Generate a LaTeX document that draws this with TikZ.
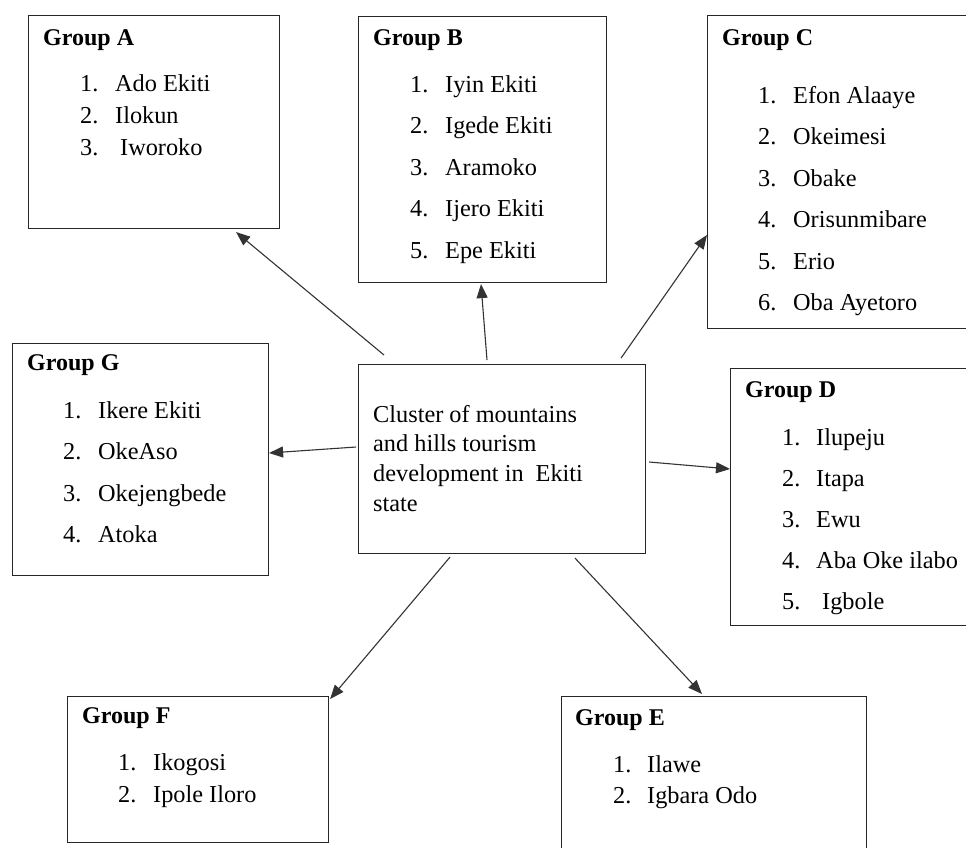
\documentclass[tikz,border=0pt]{standalone}
\usepackage{fontspec}
\setmainfont{Liberation Serif}
\usetikzlibrary{arrows.meta}

\begin{document}
\begin{tikzpicture}[x=1pt, y=-1pt,
  grp/.style={draw=black!85, line width=1.1pt, anchor=north west, inner sep=0pt},
  head/.style={anchor=base west, inner sep=0pt, font=\fontsize{24}{28}\selectfont\bfseries},
  items/.style={anchor=base west, inner sep=0pt, font=\fontsize{24.3}{41.5}\selectfont},
  tight/.style={font=\fontsize{24.3}{32}\selectfont},
  link/.style={draw=black!80, line width=1.1pt, -{Triangle[length=14pt, width=11pt]}}]

  \useasboundingbox (0,0) rectangle (966,847);
  \clip (0,0) rectangle (966,847);

  % boxes
  \node[grp, minimum width=251, minimum height=213] (gA) at (28,15) {};
  \node[grp, minimum width=248, minimum height=266] (gB) at (358,16) {};
  \node[grp, minimum width=280, minimum height=313] (gC) at (707,15) {};
  \node[grp, minimum width=256, minimum height=232] (gG) at (12,343) {};
  \node[grp, minimum width=287, minimum height=189] (c) at (358,364) {};
  \node[grp, minimum width=260, minimum height=257] (gD) at (730,368) {};
  \node[grp, minimum width=261, minimum height=146] (gF) at (67,696) {};
  \node[grp, minimum width=305, minimum height=170] (gE) at (561,696) {};

  % titles
  \node[head] (hA) at (43,45) {Group A};
  \node[head] (hB) at (373,45) {Group B};
  \node[head] (hC) at (722,45) {Group C};
  \node[head] (hD) at (745,397) {Group D};
  \node[head] (hG) at (27,370) {Group G};
  \node[head] (hF) at (82,723) {Group F};
  \node[head] (hE) at (575,725) {Group E};

  % lists
  \node[items, tight] (lA) at (80,91) {\begin{tabular}[t]{@{}p{35pt}@{}l@{}}
    1. & Ado Ekiti\\ 2. & Ilokun\\ 3. & \hspace{5pt}Iworoko\end{tabular}};
  \node[items] (lB) at (410,92) {\begin{tabular}[t]{@{}p{35pt}@{}l@{}}
    1. & Iyin Ekiti\\ 2. & Igede Ekiti\\ 3. & Aramoko\\ 4. & Ijero Ekiti\\ 5. & Epe Ekiti\end{tabular}};
  \node[items] (lC) at (758,103) {\begin{tabular}[t]{@{}p{35pt}@{}l@{}}
    1. & Efon Alaaye\\ 2. & Okeimesi\\ 3. & Obake\\ 4. & Orisunmibare\\ 5. & Erio\\ 6. & Oba Ayetoro\end{tabular}};
  \node[items, font=\fontsize{24.3}{41}\selectfont] (lD) at (782,445) {\begin{tabular}[t]{@{}p{34pt}@{}l@{}}
    1. & Ilupeju\\ 2. & Itapa\\ 3. & Ewu\\ 4. & Aba Oke ilabo\\ 5. & \hspace{6pt}Igbole\end{tabular}};
  \node[items] (lG) at (63,418) {\begin{tabular}[t]{@{}p{35pt}@{}l@{}}
    1. & Ikere Ekiti\\ 2. & OkeAso\\ 3. & Okejengbede\\ 4. & Atoka\end{tabular}};
  \node[items, tight] (lF) at (118,770) {\begin{tabular}[t]{@{}p{35pt}@{}l@{}}
    1. & Ikogosi\\ 2. & Ipole Iloro\end{tabular}};
  \node[items, font=\fontsize{24.3}{31}\selectfont] (lE) at (613,772) {\begin{tabular}[t]{@{}p{34pt}@{}l@{}}
    1. & Ilawe\\ 2. & Igbara Odo\end{tabular}};

  % centre text
  \node[items, font=\fontsize{24.3}{29.7}\selectfont] (ct) at (373,422) {\begin{tabular}[t]{@{}l@{}}
    Cluster of mountains\\ and hills tourism\\ development in\hspace{12pt}Ekiti\\ state\end{tabular}};

  % arrows out of the centre
  \draw[link] ([shift={(26,-9)}]c.north west) -- ([shift={(-44,3)}]gA.south east);
  \draw[link] ([shift={(129,-4)}]c.north west) -- ([shift={(123,1)}]gB.south west);
  \draw[link] ([shift={(-25,-6)}]c.north east) -- ([shift={(0,220)}]gC.north west);
  \draw[link] ([shift={(-2,83)}]c.north west) -- ([shift={(0,110)}]gG.north east);
  \draw[link] ([shift={(3,98)}]c.north east) -- ([shift={(0,101)}]gD.north west);
  \draw[link] ([shift={(92,3)}]c.south west) -- ([shift={(1,3)}]gF.north east);
  \draw[link] ([shift={(217,4)}]c.south west) -- ([shift={(141,-2)}]gE.north west);
\end{tikzpicture}
\end{document}
